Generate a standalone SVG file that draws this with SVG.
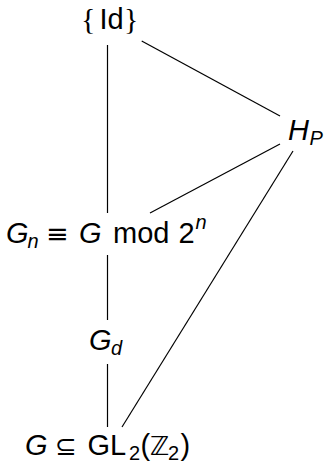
<svg xmlns="http://www.w3.org/2000/svg" width="326" height="463" viewBox="0 0 326 463">
<style>
.t{font-family:"Liberation Sans",Arial,sans-serif;font-size:29px;fill:#000}
.i{font-style:italic}
.s{font-size:20px}
.m{font-family:"DejaVu Sans",sans-serif;font-size:26px}
.q{font-size:27px}
.b{font-family:"Liberation Serif",serif;font-size:30px}
.e{stroke:#000;stroke-width:1.2;fill:none}
</style>
<rect width="326" height="463" fill="#fff"/>
<g id="connectors">
<line class="e" x1="107.5" y1="45" x2="107.5" y2="213"/>
<line class="e" x1="107.5" y1="255" x2="107.5" y2="320"/>
<line class="e" x1="107.5" y1="364" x2="107.5" y2="427"/>
<line class="e" x1="141.7" y1="41" x2="280" y2="116"/>
<line class="e" x1="280" y1="144" x2="150" y2="213"/>
<line class="e" x1="293" y1="151" x2="122" y2="427"/>
</g>
<g id="id">
<text class="b" x="81" y="29">{</text>
<text class="t" x="99.5" y="29">Id</text>
<text class="b" x="124" y="29">}</text>
</g>
<g id="hp">
<text class="t i" x="288" y="140">H</text>
<text class="t i s" x="309.5" y="145">P</text>
</g>
<g id="gn">
<text class="t i" x="6" y="243">G</text>
<text class="t i s" x="27.5" y="248">n</text>
<text class="t m q" x="46" y="243">≡</text>
<text class="t i" x="79" y="243">G</text>
<text class="t" x="113" y="243">mod</text>
<text class="t" x="178.5" y="243">2</text>
<text class="t i s" x="195.5" y="229">n</text>
</g>
<g id="gd">
<text class="t i" x="89" y="350">G</text>
<text class="t i s" x="111" y="355">d</text>
</g>
<g id="g">
<text class="t i" x="25" y="455">G</text>
<text class="t m" x="55" y="455">⊆</text>
<text class="t" x="87.5" y="455">GL</text>
<text class="t s" x="129" y="460">2</text>
<text class="t" x="140.5" y="455">(</text>
<text class="t m" x="150" y="455">ℤ</text>
<text class="t s" x="168" y="460">2</text>
<text class="t" x="180.5" y="455">)</text>
</g>
</svg>
